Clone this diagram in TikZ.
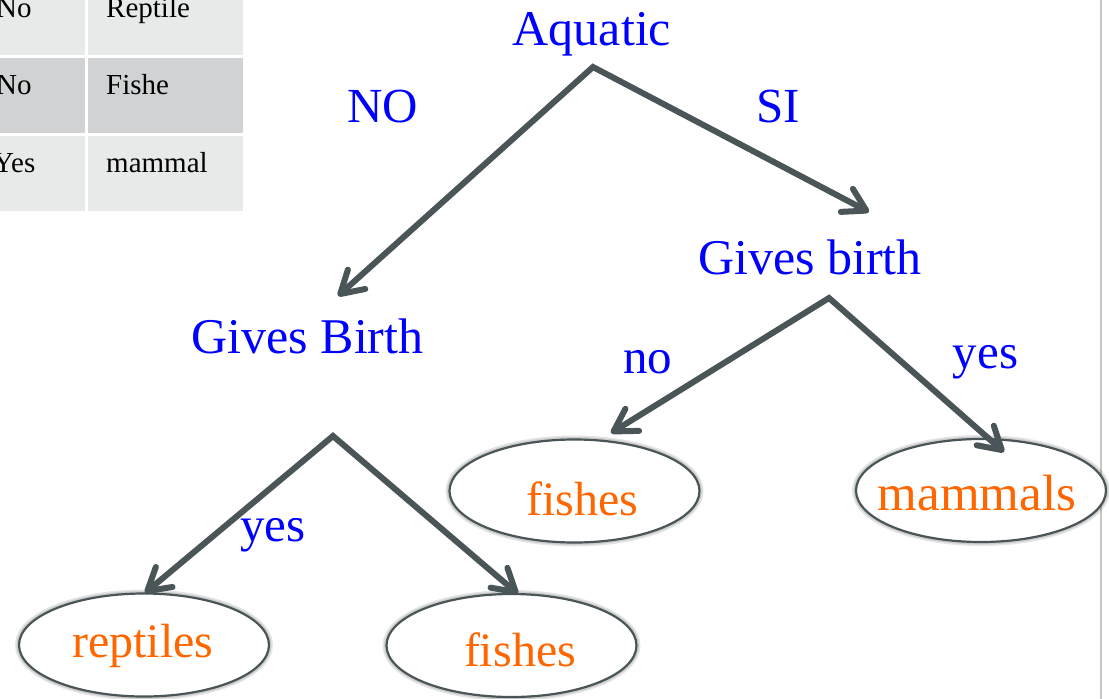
\documentclass[tikz,border=0pt]{standalone}
\usepackage{fontspec}
\setmainfont{Liberation Serif}
\usetikzlibrary{arrows.meta,shapes.geometric}

\definecolor{slate}{HTML}{4A5558}
\definecolor{ink}{RGB}{0,0,255}
\definecolor{leafor}{HTML}{FF6600}
\definecolor{cellA}{HTML}{E8E9E9}
\definecolor{cellB}{HTML}{D1D2D3}
\definecolor{rule}{HTML}{C8C8C3}

\begin{document}
\begin{tikzpicture}[x=1pt,y=-1pt,
  decision/.style={text=ink, font=\fontsize{50}{60}\selectfont, anchor=base, inner sep=0pt},
  branch/.style={text=ink, font=\fontsize{49}{58}\selectfont, anchor=base, inner sep=0pt},
  leaf/.style={ellipse, draw=slate, line width=2.2pt, fill=white,
    minimum width=250pt, minimum height=103pt, inner sep=0pt,
    preaction={draw=black, draw opacity=0.10, line width=8pt},
    preaction={draw=black, draw opacity=0.10, line width=5pt}},
  leaflabel/.style={text=leafor, font=\fontsize{48}{58}\selectfont, anchor=base, inner sep=0pt},
  split/.style={draw=slate, line width=6pt, line join=miter,
    {Straight Barb[length=22pt,width=26pt,round]}-{Straight Barb[length=22pt,width=26pt,round]}},
  cellbox/.style={fill=#1, draw=none},
  celltext/.style={font=\fontsize{29}{34}\selectfont, text=black, anchor=base west, inner sep=0pt}
]
\useasboundingbox (0,0) rectangle (1109,699);
\fill[white] (0,0) rectangle (1109,699);

% data table in the corner
\fill[cellbox=cellA] (0,0) rectangle (85,55);
\fill[cellbox=cellA] (88,0) rectangle (243,55);
\fill[cellbox=cellB] (0,58) rectangle (85,133);
\fill[cellbox=cellB] (88,58) rectangle (243,133);
\fill[cellbox=cellA] (0,136) rectangle (85,211);
\fill[cellbox=cellA] (88,136) rectangle (243,211);
\node[celltext] (t11) at (-4,17) {No};
\node[celltext] (t12) at (106,17) {Reptile};
\node[celltext] (t21) at (-4,94) {No};
\node[celltext] (t22) at (106,94) {Fishe};
\node[celltext] (t31) at (-7,172) {Yes};
\node[celltext] (t32) at (106,172) {mammal};

% right-hand frame line
\draw[rule, line width=2pt] (1101,0) -- (1101,699);

% decision nodes
\node[decision] (aq)  at (592,45)    {Aquatic};
\node[decision] (gbL) at (307.5,353) {Gives Birth};
\node[decision] (gbR) at (810,274)   {Gives birth};

% branch labels
\node[branch] (bNO)   at (382.5,122) {NO};
\node[branch] (bSI)   at (778.5,122) {SI};
\node[branch] (bno)   at (647.5,373) {no};
\node[branch] (byesR) at (985.5,368) {yes};
\node[branch] (byesL) at (273,541)   {yes};

% leaves
\node[leaf] (rep)   at (144,645)   {};
\node[leaf] (fishL) at (511.5,645.5) {};
\node[leaf] (fishR) at (574.5,491) {};
\node[leaf] (mam)   at (981,490.5) {};
\node[leaflabel] at (143,657)   {reptiles};
\node[leaflabel] at (520,666)   {fishes};
\node[leaflabel] at (582.5,515) {fishes};
\node[leaflabel, font=\fontsize{51}{60}\selectfont] at (977,510) {mammals};

% split points and arrow tips
\coordinate (aqApex)  at (593,67);
\coordinate (aqNo)    at (338,296);
\coordinate (aqYes)   at (869,212);
\coordinate (gbRApex) at (829,298);
\coordinate (gbRNo)   at (611,433);
\coordinate (gbRYes)  at (1004,452);
\coordinate (gbLApex) at (333,436);
\coordinate (gbLYes)  at (145,593);
\coordinate (gbLNo)   at (518,594);

\draw[split] (aqNo) -- (aqApex) -- (aqYes);
\draw[split] (gbRNo) -- (gbRApex) -- (gbRYes);
\draw[split] (gbLYes) -- (gbLApex) -- (gbLNo);
\end{tikzpicture}
\end{document}
